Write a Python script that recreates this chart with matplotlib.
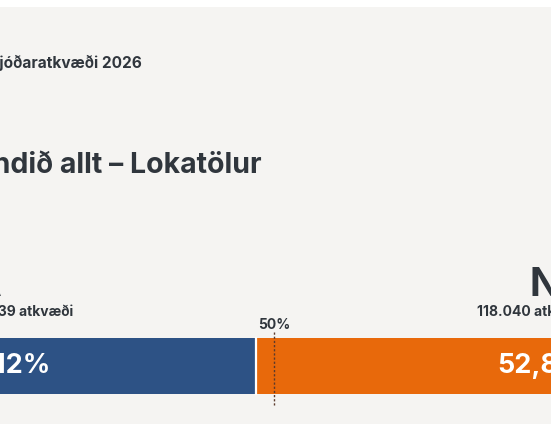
import matplotlib
matplotlib.use("Agg")
import matplotlib.pyplot as plt

plt.rcParams['font.family'] = ['Inter', 'DejaVu Sans']

# gögn
kicker = 'Þjóðaratkvæði 2026'
title = 'Landið allt – Lokatölur'
options = ['JÁ', 'NEI']
votes = ['105.139', '118.040']
shares = [47.12, 52.88]
bar_colors = ['#2d5285', '#e8690b']
threshold = 50

BG = '#f5f4f2'
INK = '#30363d'

W, H = 551, 431
fig = plt.figure(figsize=(W / 100, H / 100), dpi=100)
fig.patch.set_facecolor('white')
ax = fig.add_axes([0, 0, 1, 1])

# x-ás í prósentum, y-ás í dílum ofan frá
left_px, px_pct = -38.5, 6.25


def px(x):
    return (x - left_px) / px_pct


ax.set_xlim(px(0), px(W))
ax.set_ylim(H, 0)
ax.axis('off')

# bakgrunnsflötur
ax.fill_between([px(0), px(W)], 8, 425, color=BG, zorder=0, linewidth=0)

ax.text(px(142), 63, kicker, ha='right', va='center', fontsize=11.1,
        fontweight='bold', color=INK)
ax.text(px(262), 166, title, ha='right', va='center', fontsize=20.5,
        fontweight='bold', color=INK)

# súlan
start = 0
for share, col in zip(shares, bar_colors):
    ax.barh(367, share, left=start, height=56, color=col, linewidth=0, zorder=2)
    start += share
ax.plot([shares[0], shares[0]], [339, 395.5], color='white', linewidth=1.6, zorder=3)

ax.plot([threshold, threshold], [333, 406], color='#5b3a2c', linewidth=1,
        linestyle=(0, (1.6, 1.4)), zorder=4)
ax.text(threshold, 325, f'{threshold}%', ha='center', va='center', fontsize=10,
        fontweight='bold', color=INK)

# Já (vinstra megin)
ax.text(px(2), 296, options[0], ha='right', va='baseline', fontsize=28,
        fontweight='bold', color=INK)
ax.text(px(73), 312, f'{votes[0]} atkvæði', ha='right', va='center', fontsize=10,
        fontweight='bold', color=INK)
ax.text(px(51), 366, f'{shares[0]:.2f}%'.replace('.', ','), ha='right', va='center',
        fontsize=19.5, fontweight='bold', color='white', zorder=5)

# Nei (hægra megin)
ax.text(px(529), 296, options[1], ha='left', va='baseline', fontsize=28,
        fontweight='bold', color=INK)
ax.text(px(477), 312, f'{votes[1]} atkvæði', ha='left', va='center', fontsize=10,
        fontweight='bold', color=INK)
ax.text(px(497), 366, f'{shares[1]:.2f}%'.replace('.', ','), ha='left', va='center',
        fontsize=19.5, fontweight='bold', color='white', zorder=5)

fig.savefig('out.png', dpi=100, facecolor=fig.get_facecolor())
